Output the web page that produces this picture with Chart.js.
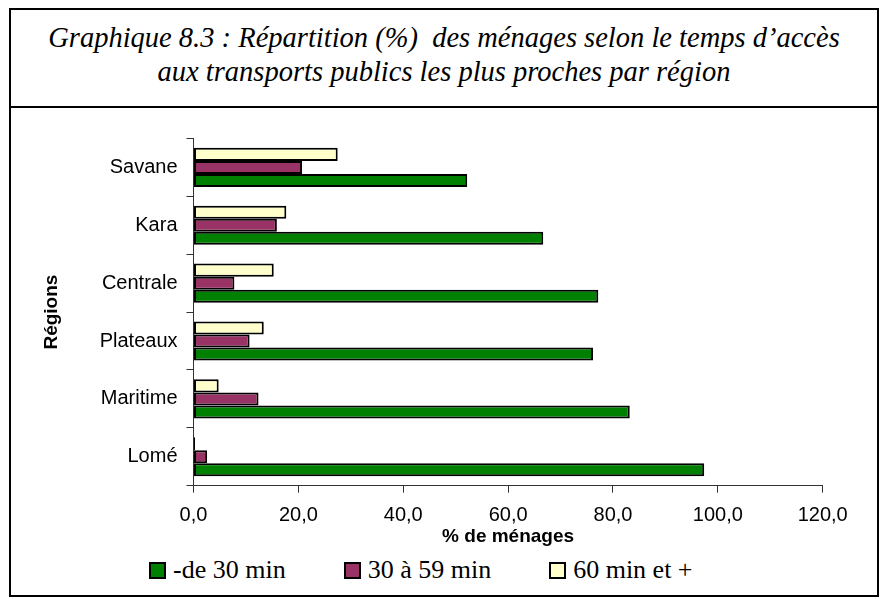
<!DOCTYPE html>
<html>
<head>
<meta charset="utf-8">
<script src="https://cdn.jsdelivr.net/npm/chart.js@4.4.1/dist/chart.umd.min.js"></script>
<style>
  body { margin: 0; background: #fff; width: 881px; height: 599px; position: relative; overflow: hidden; }
  #frame { position: absolute; left: 9px; top: 8px; width: 866px; height: 585px; border: 2px solid #000; }
  #divider { position: absolute; left: 9px; top: 106px; width: 870px; height: 2px; background: #000; }
  #title { position: absolute; left: 11px; top: 21px; width: 866px; text-align: center;
           font-family: "Liberation Serif", "Times New Roman", serif; font-style: italic;
           font-size: 28.5px; line-height: 34px; white-space: pre; color: #000; }
  #chart { position: absolute; left: 10px; top: 108px; }
  #legend { position: absolute; left: 149px; top: 555px; height: 30px; display: flex; align-items: center;
            font-family: "Liberation Serif", "Times New Roman", serif; font-size: 26px; color: #000; }
  .item { display: flex; align-items: center; margin-right: 58px; }
  .box { width: 13px; height: 13px; border: 2px solid #000; margin-right: 7px; }
</style>
</head>
<body>
<div id="frame"></div>
<div id="divider"></div>
<div id="title">Graphique 8.3 : Répartition (%)  des ménages selon le temps d’accès
aux transports publics les plus proches par région</div>
<canvas id="chart" width="868" height="444"></canvas>
<div id="legend"></div>

<script>
// données
const regions = ['Savane', 'Kara', 'Centrale', 'Plateaux', 'Maritime', 'Lomé'];
const moins30 = [52.2, 66.7, 77.2, 76.2, 83.2, 97.4];
const de30a59 = [20.7, 15.9, 7.8, 10.7, 12.4, 2.6];
const plus60 = [27.5, 17.7, 15.3, 13.4, 4.8, 0.3];
const seriesNames = ['-de 30 min', '30 à 59 min', '60 min et +'];
const seriesColors = ['#008000', '#993366', '#FFFFCC'];
const xTicks = [0, 20, 40, 60, 80, 100, 120];

const sansFont = '"Liberation Sans", Arial, sans-serif';

function makeDataset(i, values) {
    return {
        label: seriesNames[i],
        data: values,
        backgroundColor: seriesColors[i],
        borderColor: '#000',
        borderWidth: 2,
        borderSkipped: false,
        categoryPercentage: 0.676,
        barPercentage: 1.0
    };
}

// ordre dans chaque groupe : jaune en haut, vert en bas
const datasets = [
    makeDataset(2, plus60),
    makeDataset(1, de30a59),
    makeDataset(0, moins30)
];

const chart = new Chart(document.getElementById('chart'), {
    type: 'bar',
    data: { labels: regions, datasets: datasets },
    options: {
        indexAxis: 'y',
        responsive: false,
        animation: false,
        layout: { padding: { left: 0, top: 30.5, right: 55.3, bottom: 0 } },
        plugins: {
            legend: { display: false },
            tooltip: { enabled: false }
        },
        scales: {
            x: {
                min: xTicks[0],
                max: xTicks[xTicks.length - 1],
                afterBuildTicks: (scale) => { scale.ticks = xTicks.map(v => ({ value: v })); },
                afterFit: (scale) => { scale.height = 66.3; },
                ticks: {
                    color: '#000',
                    padding: 11,
                    font: { family: sansFont, size: 20 },
                    callback: (v) => Number(v).toFixed(1).replace('.', ',')
                },
                grid: { drawOnChartArea: false, tickLength: 7, color: '#333' },
                border: { color: '#333', width: 1 },
                title: {
                    display: true,
                    text: '% de ménages',
                    color: '#000',
                    font: { family: sansFont, size: 19, weight: 'bold' },
                    padding: { top: 0, bottom: 4 }
                }
            },
            y: {
                afterFit: (scale) => { scale.width = 183.5; },
                ticks: {
                    color: '#000',
                    padding: 9,
                    font: { family: sansFont, size: 20 }
                },
                grid: { drawOnChartArea: false, tickLength: 7, color: '#333', offset: true },
                border: { color: '#333', width: 1 },
                title: {
                    display: true,
                    text: 'Régions',
                    color: '#000',
                    font: { family: sansFont, size: 19, weight: 'bold' },
                    padding: { top: 30, bottom: 0 }
                }
            }
        }
    }
});

// légende en bas, dans l'ordre vert, violet, jaune
const legendEl = document.getElementById('legend');
seriesNames.forEach((name, i) => {
    const item = document.createElement('div');
    item.className = 'item';
    const box = document.createElement('span');
    box.className = 'box';
    box.style.background = seriesColors[i];
    const txt = document.createElement('span');
    txt.innerText = name;
    item.appendChild(box);
    item.appendChild(txt);
    legendEl.appendChild(item);
});
</script>
</body>
</html>
